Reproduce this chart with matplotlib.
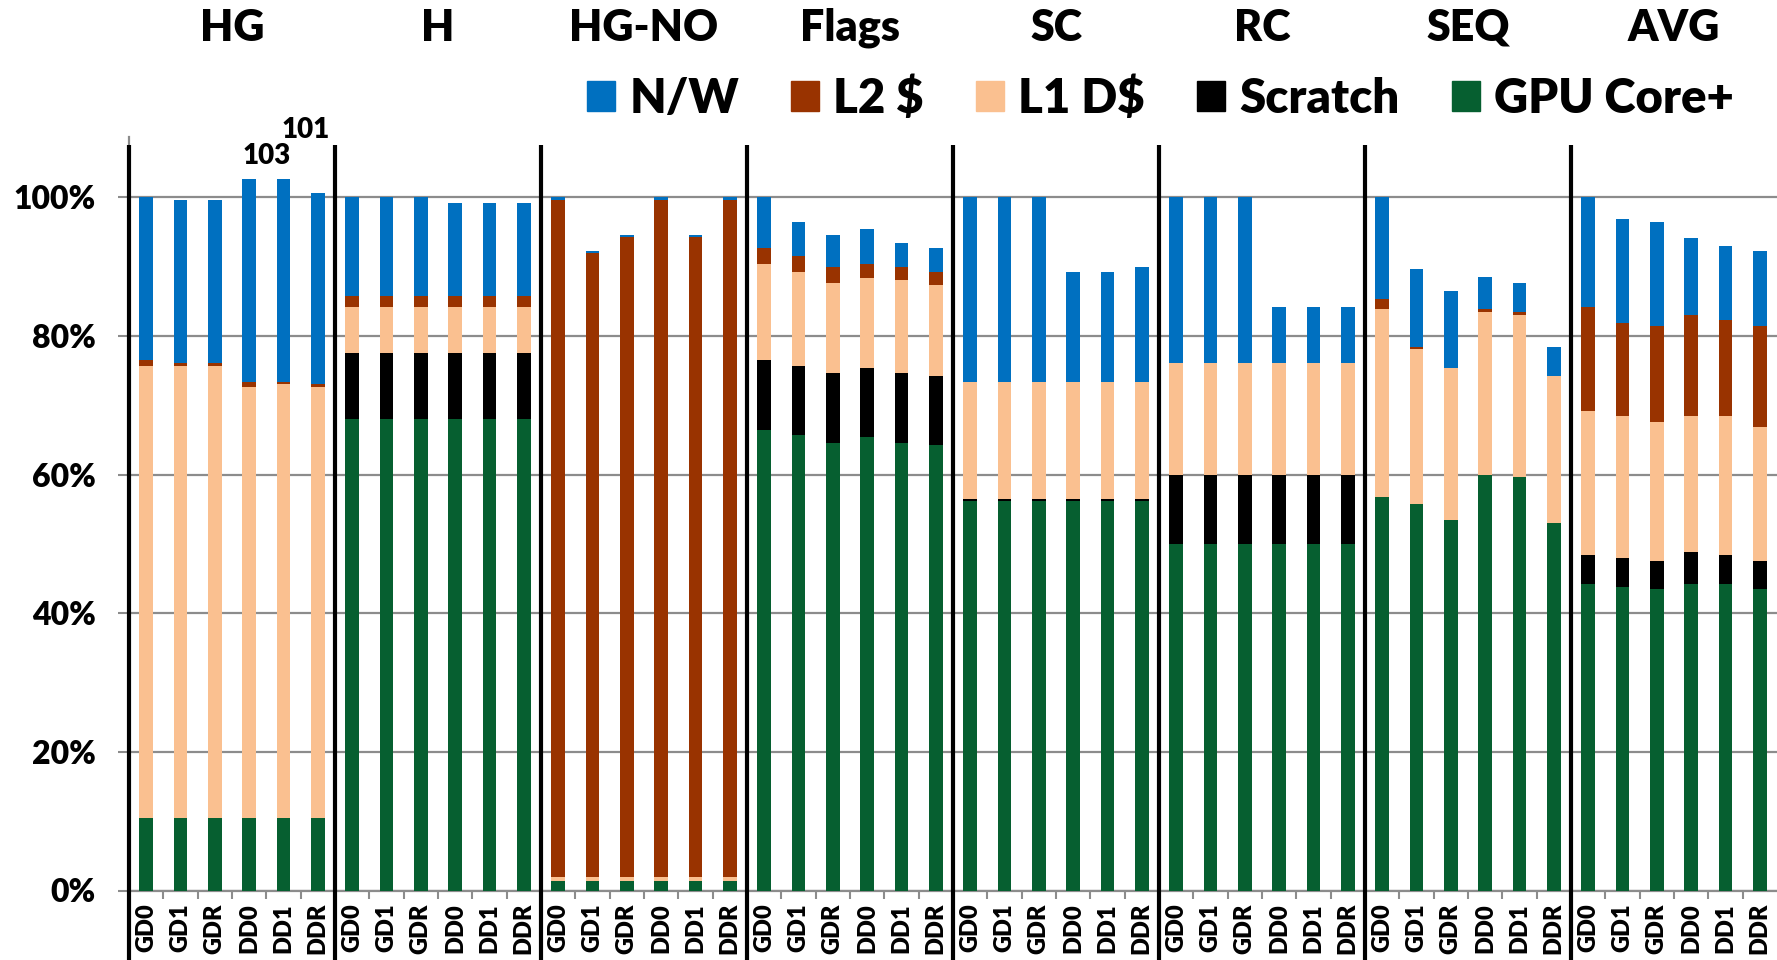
import numpy as np
import matplotlib
matplotlib.use("Agg")
import matplotlib.pyplot as plt
from matplotlib.patches import Patch
from matplotlib.transforms import blended_transform_factory

plt.rcParams['font.family'] = ['Lato', 'DejaVu Sans']
WEIGHT = 'heavy'
plt.rcParams['font.weight'] = WEIGHT

groups = ['HG', 'H', 'HG-NO', 'Flags', 'SC', 'RC', 'SEQ', 'AVG']
configs = ['GD0', 'GD1', 'GDR', 'DD0', 'DD1', 'DDR']

# segment heights (%) per bar, 6 configs per group, groups in order above
gpu_core = [10.4, 10.4, 10.4, 10.4, 10.4, 10.4,
            68.0, 68.0, 68.0, 68.0, 68.0, 68.0,
            1.4, 1.4, 1.4, 1.4, 1.4, 1.4,
            66.5, 65.7, 64.6, 65.4, 64.6, 64.3,
            56.2, 56.2, 56.2, 56.2, 56.2, 56.2,
            50.0, 50.0, 50.0, 50.0, 50.0, 50.0,
            56.8, 55.7, 53.4, 60.0, 59.6, 53.0,
            44.2, 43.8, 43.5, 44.2, 44.2, 43.5]
scratch = [0, 0, 0, 0, 0, 0,
           9.6, 9.6, 9.6, 9.6, 9.6, 9.6,
           0, 0, 0, 0, 0, 0,
           10.0, 10.0, 10.0, 10.0, 10.0, 9.9,
           0.3, 0.3, 0.3, 0.3, 0.3, 0.3,
           10.0, 10.0, 10.0, 10.0, 10.0, 10.0,
           0, 0, 0, 0, 0, 0,
           4.2, 4.2, 4.1, 4.6, 4.2, 4.1]
l1_d = [65.3, 65.3, 65.3, 62.2, 62.6, 62.3,
        6.6, 6.6, 6.6, 6.6, 6.6, 6.6,
        0.5, 0.5, 0.5, 0.5, 0.5, 0.5,
        13.9, 13.5, 13.1, 13.0, 13.5, 13.1,
        16.9, 16.9, 16.9, 16.9, 16.9, 16.9,
        16.1, 16.1, 16.1, 16.1, 16.1, 16.1,
        27.1, 22.4, 22.0, 23.5, 23.4, 21.2,
        20.8, 20.4, 20.0, 19.6, 20.0, 19.3]
l2 = [0.8, 0.4, 0.4, 0.8, 0.4, 0.3,
      1.5, 1.5, 1.5, 1.5, 1.5, 1.5,
      97.7, 90.1, 92.4, 97.7, 92.4, 97.7,
      2.3, 2.3, 2.3, 2.0, 1.9, 1.9,
      0, 0, 0, 0, 0, 0,
      0, 0, 0, 0, 0, 0,
      1.5, 0.35, 0, 0.35, 0.4, 0,
      15.0, 13.5, 13.9, 14.6, 13.9, 14.6]
nw = [23.5, 23.5, 23.5, 29.3, 29.3, 27.6,
      14.3, 14.3, 14.3, 13.5, 13.5, 13.5,
      0.4, 0.3, 0.3, 0.4, 0.3, 0.4,
      7.3, 5.0, 4.6, 5.0, 3.4, 3.5,
      26.6, 26.6, 26.6, 15.8, 15.8, 16.6,
      23.9, 23.9, 23.9, 8.1, 8.1, 8.1,
      14.6, 11.2, 11.1, 4.6, 4.3, 4.2,
      15.8, 15.0, 15.0, 11.2, 10.7, 10.8]

series = [('GPU Core+', gpu_core, '#065F30'),
          ('Scratch', scratch, '#000000'),
          ('L1 D$', l1_d, '#FAC090'),
          ('L2 $', l2, '#993300'),
          ('N/W', nw, '#0070C0')]

n = len(groups) * len(configs)
x = np.arange(n) + 0.5

fig = plt.figure(figsize=(17.77, 9.6), dpi=100)
ax = fig.add_axes([129 / 1777, 69.5 / 960, 1648 / 1777, 753.5 / 960])

bottom = np.zeros(n)
for name, vals, color in series:
    vals = np.array(vals, dtype=float)
    ax.bar(x, vals, width=0.39, bottom=bottom, color=color, zorder=3)
    bottom += vals
totals = bottom

ax.set_xlim(0, n)
ax.set_ylim(0, 108.7)

# y axis
ax.set_yticks(np.arange(0, 101, 20))
ax.set_yticklabels([f'{v}%' for v in range(0, 101, 20)])
ax.tick_params(axis='y', length=8, width=1.5, color='#8c8c8c', pad=16,
               labelsize=23)
ax.yaxis.grid(True, color='#8c8c8c', linewidth=1.6, zorder=0)
ax.set_axisbelow(True)

# x axis: labels under each bar, small ticks between bars
ax.set_xticks(x)
ax.set_xticklabels(configs * len(groups), rotation=90)
ax.set_xticks(np.arange(1, n), minor=True)
ax.tick_params(axis='x', which='major', length=0, pad=9, labelsize=17)
ax.tick_params(axis='x', which='minor', length=6, width=1.5, color='#8c8c8c')

for side in ['top', 'right']:
    ax.spines[side].set_visible(False)
for side in ['left', 'bottom']:
    ax.spines[side].set_color('#8c8c8c')
    ax.spines[side].set_linewidth(1.6)

# thick separators between benchmark groups
ax.vlines(np.arange(0, n, len(configs)), -10.5, 107.5, color='black',
          linewidth=3, clip_on=False, zorder=4)

# group names along the top
trans = blended_transform_factory(ax.transData, fig.transFigure)
for i, g in enumerate(groups):
    ax.text(i * len(configs) + len(configs) / 2, 0.971, g, transform=trans,
            ha='center', va='center', fontsize=31, fontweight=WEIGHT)

# totals of the HG bars that go past 100%
ax.text((x[3] + x[4]) / 2, 106.0, f'{totals[3]:.0f}', ha='center',
        va='center', fontsize=20, fontweight=WEIGHT, clip_on=False)
ax.text(x[5] - 0.35, 109.7, f'{totals[5]:.0f}', ha='center', va='center',
        fontsize=20, fontweight=WEIGHT, clip_on=False)

handles = [Patch(color=c, label=name) for name, _, c in series[::-1]]
fig.legend(handles=handles, loc='center', bbox_to_anchor=(0.653, 0.897),
           ncol=5, frameon=False, handlelength=0.6, handleheight=0.6,
           handletextpad=0.3, columnspacing=1.1,
           prop={'size': 34, 'weight': WEIGHT})

fig.savefig('out.png', dpi=100)
